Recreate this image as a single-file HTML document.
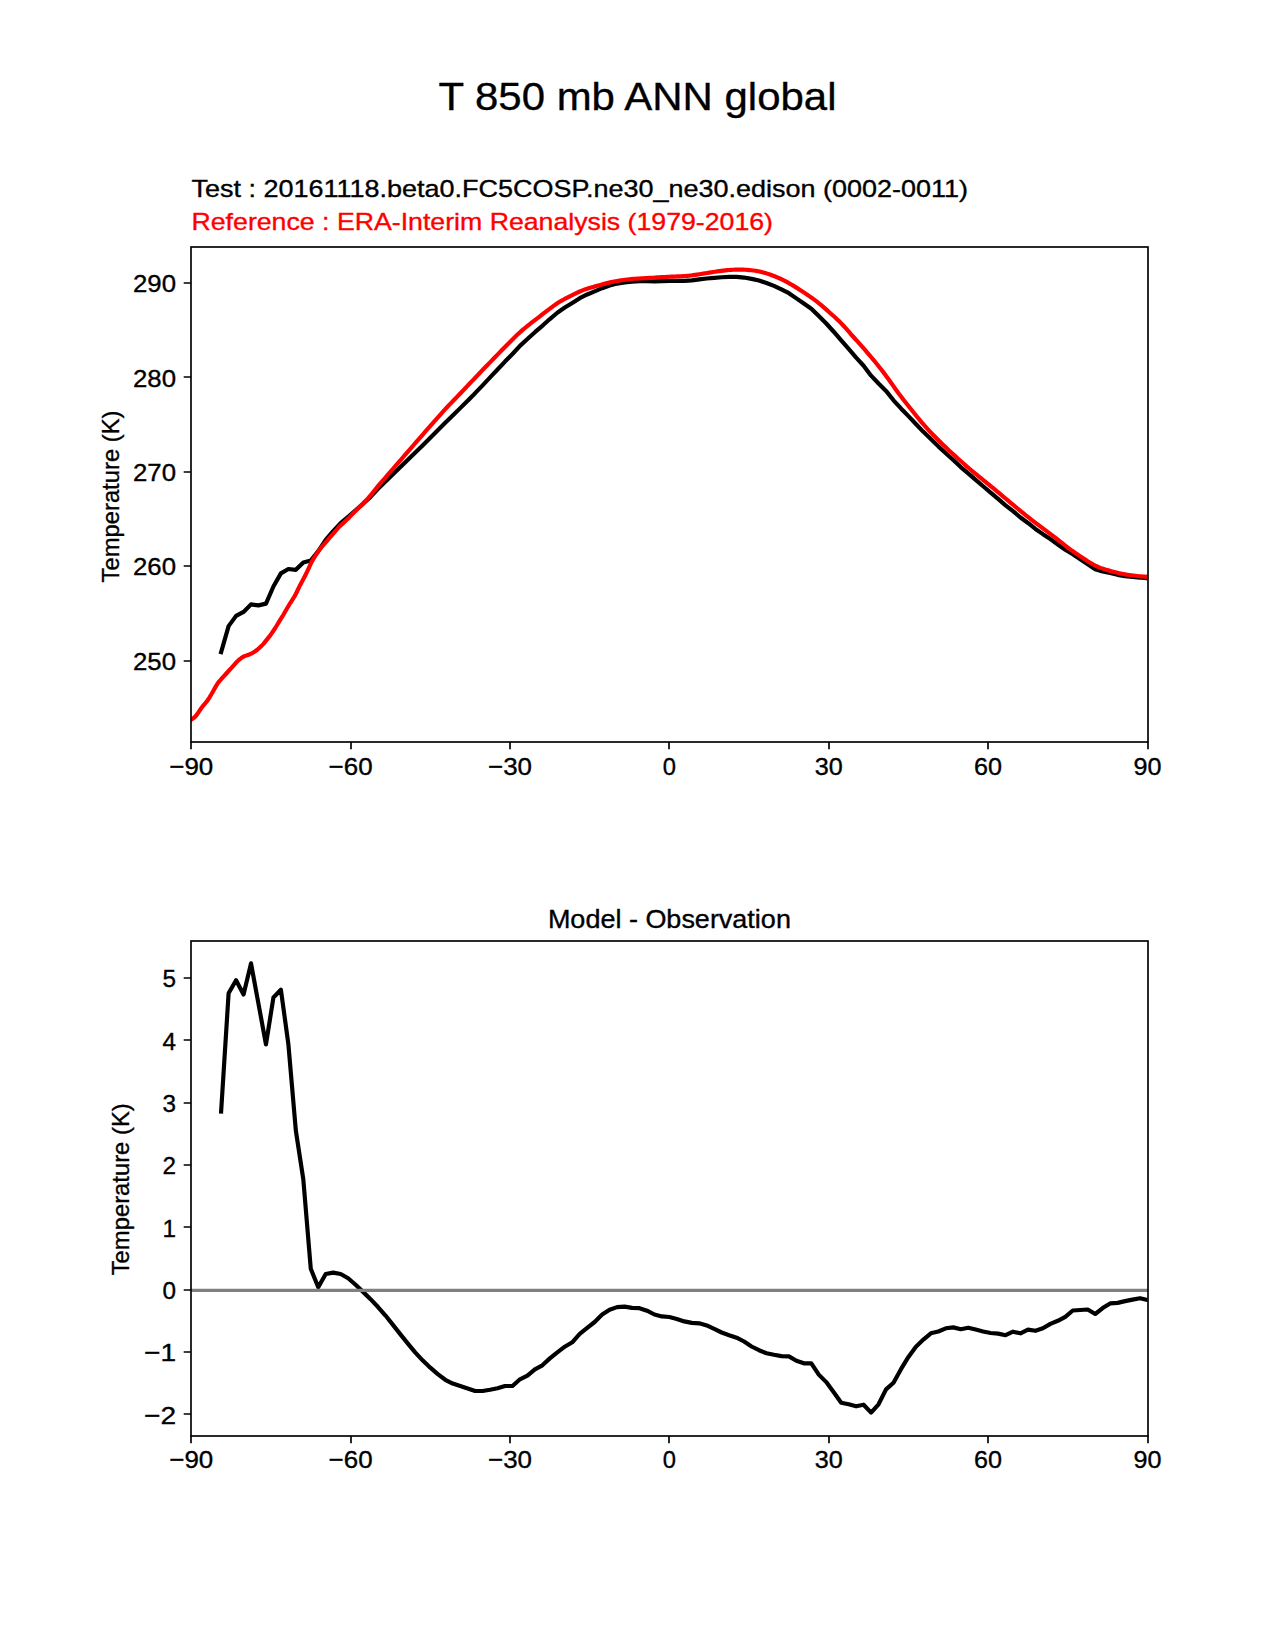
<!DOCTYPE html><html><head><meta charset="utf-8"><style>html,body{margin:0;padding:0;background:#fff;overflow:hidden}</style></head><body><svg width="1275" height="1650" viewBox="0 0 1275 1650" style="display:block"><rect width="1275" height="1650" fill="#fff"/><g font-family='"Liberation Sans", sans-serif' fill="#000" stroke="#000" stroke-width="0.35"><text x="637.5" y="110.4" font-size="39.7" text-anchor="middle" textLength="398" lengthAdjust="spacingAndGlyphs">T 850 mb ANN global</text><text x="191.5" y="197" font-size="24.3" textLength="776.5" lengthAdjust="spacingAndGlyphs">Test : 20161118.beta0.FC5COSP.ne30_ne30.edison (0002-0011)</text><text x="191.5" y="230.3" font-size="24.3" fill="#ff0000" stroke="#ff0000" textLength="581.5" lengthAdjust="spacingAndGlyphs">Reference : ERA-Interim Reanalysis (1979-2016)</text><text x="669.4" y="928.4" font-size="26.5" text-anchor="middle" textLength="243" lengthAdjust="spacingAndGlyphs">Model - Observation</text><text transform="translate(118.8,496.5) rotate(-90)" font-size="24.3" text-anchor="middle" textLength="172" lengthAdjust="spacingAndGlyphs">Temperature (K)</text><text transform="translate(128.8,1189.3) rotate(-90)" font-size="24.3" text-anchor="middle" textLength="172" lengthAdjust="spacingAndGlyphs">Temperature (K)</text></g><path d="M191.00 742v7.3 M191.00 1436v7.3 M351.00 742v7.3 M351.00 1436v7.3 M510.00 742v7.3 M510.00 1436v7.3 M669.00 742v7.3 M669.00 1436v7.3 M829.00 742v7.3 M829.00 1436v7.3 M988.00 742v7.3 M988.00 1436v7.3 M1148.00 742v7.3 M1148.00 1436v7.3 M191 661.00h-7.3 M191 566.00h-7.3 M191 472.00h-7.3 M191 377.00h-7.3 M191 283.00h-7.3 M191 1414.00h-7.3 M191 1352.00h-7.3 M191 1290.00h-7.3 M191 1227.00h-7.3 M191 1165.00h-7.3 M191 1103.00h-7.3 M191 1040.00h-7.3 M191 978.00h-7.3" stroke="#000" stroke-width="1.67" fill="none"/><g font-family='"Liberation Sans", sans-serif' font-size="24.3" fill="#000" stroke="#000" stroke-width="0.35"><text x="191.25" y="774.6" text-anchor="middle" textLength="44" lengthAdjust="spacingAndGlyphs">−90</text><text x="191.25" y="1467.6" text-anchor="middle" textLength="44" lengthAdjust="spacingAndGlyphs">−90</text><text x="350.62" y="774.6" text-anchor="middle" textLength="44" lengthAdjust="spacingAndGlyphs">−60</text><text x="350.62" y="1467.6" text-anchor="middle" textLength="44" lengthAdjust="spacingAndGlyphs">−60</text><text x="510.00" y="774.6" text-anchor="middle" textLength="44" lengthAdjust="spacingAndGlyphs">−30</text><text x="510.00" y="1467.6" text-anchor="middle" textLength="44" lengthAdjust="spacingAndGlyphs">−30</text><text x="669.38" y="774.6" text-anchor="middle" textLength="13.2" lengthAdjust="spacingAndGlyphs">0</text><text x="669.38" y="1467.6" text-anchor="middle" textLength="13.2" lengthAdjust="spacingAndGlyphs">0</text><text x="828.75" y="774.6" text-anchor="middle" textLength="28" lengthAdjust="spacingAndGlyphs">30</text><text x="828.75" y="1467.6" text-anchor="middle" textLength="28" lengthAdjust="spacingAndGlyphs">30</text><text x="988.12" y="774.6" text-anchor="middle" textLength="28" lengthAdjust="spacingAndGlyphs">60</text><text x="988.12" y="1467.6" text-anchor="middle" textLength="28" lengthAdjust="spacingAndGlyphs">60</text><text x="1147.50" y="774.6" text-anchor="middle" textLength="28" lengthAdjust="spacingAndGlyphs">90</text><text x="1147.50" y="1467.6" text-anchor="middle" textLength="28" lengthAdjust="spacingAndGlyphs">90</text><text x="176" y="669.70" text-anchor="end" textLength="43" lengthAdjust="spacingAndGlyphs">250</text><text x="176" y="575.30" text-anchor="end" textLength="43" lengthAdjust="spacingAndGlyphs">260</text><text x="176" y="480.90" text-anchor="end" textLength="43" lengthAdjust="spacingAndGlyphs">270</text><text x="176" y="386.50" text-anchor="end" textLength="43" lengthAdjust="spacingAndGlyphs">280</text><text x="176" y="292.10" text-anchor="end" textLength="43" lengthAdjust="spacingAndGlyphs">290</text><text x="176" y="1423.82" text-anchor="end" textLength="32" lengthAdjust="spacingAndGlyphs">−2</text><text x="176" y="1361.46" text-anchor="end" textLength="32" lengthAdjust="spacingAndGlyphs">−1</text><text x="176" y="1299.10" text-anchor="end" textLength="13.5" lengthAdjust="spacingAndGlyphs">0</text><text x="176" y="1236.74" text-anchor="end" textLength="13.5" lengthAdjust="spacingAndGlyphs">1</text><text x="176" y="1174.38" text-anchor="end" textLength="13.5" lengthAdjust="spacingAndGlyphs">2</text><text x="176" y="1112.02" text-anchor="end" textLength="13.5" lengthAdjust="spacingAndGlyphs">3</text><text x="176" y="1049.66" text-anchor="end" textLength="13.5" lengthAdjust="spacingAndGlyphs">4</text><text x="176" y="987.30" text-anchor="end" textLength="13.5" lengthAdjust="spacingAndGlyphs">5</text></g><defs><clipPath id="c1"><rect x="191.25" y="247.5" width="956.25" height="495"/></clipPath><clipPath id="c2"><rect x="191.25" y="940.5" width="956.25" height="495"/></clipPath></defs><polyline points="221.13,652.19 228.60,626.11 236.07,615.86 243.54,611.91 251.02,604.38 258.49,605.37 265.96,603.65 273.43,586.49 280.90,573.38 288.37,568.98 295.84,569.81 303.31,562.46 310.78,560.49 318.25,551.17 325.72,539.92 333.19,531.07 340.66,523.05 348.13,516.72 355.61,510.23 363.08,503.81 370.55,496.85 378.02,488.81 385.49,481.40 392.96,474.17 400.43,467.00 407.90,459.82 415.37,452.59 422.84,445.21 430.31,437.75 437.78,430.25 445.25,422.83 452.72,415.51 460.20,408.13 467.67,400.67 475.14,393.17 482.61,385.32 490.08,377.44 497.55,369.54 505.02,361.55 512.49,354.03 519.96,345.89 527.43,338.98 534.90,332.18 542.37,325.82 549.84,319.05 557.31,312.75 564.79,307.55 572.26,303.04 579.73,298.22 587.20,294.49 594.67,291.39 602.14,288.18 609.61,285.56 617.08,283.60 624.55,282.36 632.02,281.75 639.49,281.27 646.96,281.26 654.43,281.39 661.90,281.20 669.38,280.90 676.85,280.85 684.32,280.86 691.79,280.40 699.26,279.35 706.73,278.46 714.20,277.81 721.67,277.29 729.14,276.92 736.61,276.92 744.08,277.55 751.55,278.89 759.02,280.57 766.49,282.99 773.96,285.87 781.44,289.29 788.91,293.22 796.38,298.35 803.85,303.57 811.32,308.68 818.79,316.03 826.26,323.53 833.73,331.72 841.20,340.42 848.67,348.93 856.14,357.62 863.61,365.76 871.08,375.65 878.55,383.46 886.03,390.90 893.50,400.29 900.97,408.46 908.44,416.16 915.91,423.95 923.38,431.84 930.85,439.07 938.32,446.36 945.79,453.20 953.26,460.07 960.73,467.05 968.20,473.39 975.67,479.92 983.14,486.27 990.62,492.59 998.09,498.88 1005.56,505.39 1013.03,511.11 1020.50,517.50 1027.97,522.99 1035.44,528.93 1042.91,534.15 1050.38,539.11 1057.85,544.44 1065.32,549.70 1072.79,554.34 1080.26,559.38 1087.73,564.19 1095.21,569.18 1102.68,571.40 1110.15,572.96 1117.62,574.83 1125.09,576.11 1132.56,576.95 1140.03,577.55 1147.50,578.33" fill="none" stroke="#000" stroke-width="4.17" stroke-linejoin="round" stroke-linecap="square" clip-path="url(#c1)"/><polyline points="191.25,719.66 193.25,718.37 195.25,716.67 197.25,714.16 199.25,711.18 201.25,708.25 203.25,705.61 205.25,703.23 207.25,700.80 209.25,697.87 211.25,694.46 213.25,690.92 215.25,687.36 217.25,684.07 219.25,681.28 221.25,679.03 223.25,676.93 225.25,674.76 227.25,672.50 229.25,670.25 231.25,668.05 233.25,665.84 235.25,663.59 237.25,661.43 239.25,659.58 241.25,658.02 243.25,656.72 245.25,655.89 247.25,655.19 249.25,654.53 251.25,653.68 253.25,652.52 255.25,651.22 257.25,649.73 259.25,647.96 261.25,646.13 263.25,644.13 265.25,641.68 267.25,639.13 269.25,636.66 271.25,633.94 273.25,630.99 275.25,628.01 277.25,624.76 279.25,621.41 281.25,618.23 283.25,614.99 285.25,611.48 287.25,607.98 289.25,604.72 291.25,601.62 293.25,598.48 295.25,595.11 297.25,590.98 299.25,586.80 301.25,583.06 303.25,579.27 305.25,575.45 307.25,571.44 309.25,567.04 311.25,562.62 313.25,559.19 315.25,556.00 317.25,552.95 319.25,550.15 321.25,547.46 323.25,545.08 325.25,542.84 327.25,540.57 329.25,538.20 331.25,535.87 333.25,533.60 335.25,531.33 337.25,528.99 339.25,526.67 341.25,524.91 343.25,523.17 345.25,521.19 347.25,519.29 349.25,517.40 351.25,515.38 353.25,513.32 355.25,511.32 357.25,509.35 359.25,507.31 361.25,505.28 363.25,503.31 365.25,501.34 367.25,499.27 369.25,496.97 371.25,494.58 373.25,492.15 375.25,489.65 377.25,487.13 379.25,484.68 381.25,482.35 383.25,480.06 385.25,477.76 387.25,475.45 389.25,473.14 391.25,470.82 393.25,468.51 395.25,466.20 397.25,463.90 399.25,461.60 401.25,459.30 403.25,456.99 405.25,454.69 407.25,452.40 409.25,450.10 411.25,447.80 413.25,445.50 415.25,443.20 417.25,440.90 419.25,438.60 421.25,436.30 423.25,434.01 425.25,431.72 427.25,429.44 429.25,427.15 431.25,424.88 433.25,422.61 435.25,420.34 437.25,418.08 439.25,415.83 441.25,413.59 443.25,411.38 445.25,409.19 447.25,407.04 449.25,404.93 451.25,402.84 453.25,400.77 455.25,398.70 457.25,396.63 459.25,394.54 461.25,392.45 463.25,390.36 465.25,388.26 467.25,386.15 469.25,384.05 471.25,381.94 473.25,379.83 475.25,377.71 477.25,375.59 479.25,373.48 481.25,371.39 483.25,369.32 485.25,367.25 487.25,365.20 489.25,363.14 491.25,361.08 493.25,359.03 495.25,356.98 497.25,354.92 499.25,352.87 501.25,350.82 503.25,348.78 505.25,346.74 507.25,344.71 509.25,342.69 511.25,340.68 513.25,338.70 515.25,336.75 517.25,334.84 519.25,332.97 521.25,331.17 523.25,329.42 525.25,327.75 527.25,326.12 529.25,324.53 531.25,322.96 533.25,321.41 535.25,319.86 537.25,318.32 539.25,316.78 541.25,315.24 543.25,313.70 545.25,312.17 547.25,310.63 549.25,309.10 551.25,307.58 553.25,306.09 555.25,304.65 557.25,303.30 559.25,302.04 561.25,300.86 563.25,299.74 565.25,298.67 567.25,297.62 569.25,296.60 571.25,295.58 573.25,294.59 575.25,293.61 577.25,292.65 579.25,291.74 581.25,290.87 583.25,290.08 585.25,289.35 587.25,288.69 589.25,288.07 591.25,287.48 593.25,286.90 595.25,286.33 597.25,285.77 599.25,285.21 601.25,284.66 603.25,284.13 605.25,283.61 607.25,283.10 609.25,282.62 611.25,282.15 613.25,281.72 615.25,281.31 617.25,280.94 619.25,280.59 621.25,280.27 623.25,279.98 625.25,279.71 627.25,279.47 629.25,279.25 631.25,279.06 633.25,278.88 635.25,278.73 637.25,278.60 639.25,278.49 641.25,278.38 643.25,278.27 645.25,278.17 647.25,278.06 649.25,277.95 651.25,277.84 653.25,277.71 655.25,277.58 657.25,277.45 659.25,277.32 661.25,277.20 663.25,277.08 665.25,276.97 667.25,276.87 669.25,276.77 671.25,276.68 673.25,276.59 675.25,276.51 677.25,276.42 679.25,276.32 681.25,276.23 683.25,276.12 685.25,276.00 687.25,275.86 689.25,275.68 691.25,275.45 693.25,275.18 695.25,274.89 697.25,274.58 699.25,274.27 701.25,273.95 703.25,273.63 705.25,273.30 707.25,272.98 709.25,272.65 711.25,272.33 713.25,272.02 715.25,271.72 717.25,271.42 719.25,271.13 721.25,270.86 723.25,270.61 725.25,270.38 727.25,270.18 729.25,270.02 731.25,269.89 733.25,269.78 735.25,269.70 737.25,269.63 739.25,269.60 741.25,269.61 743.25,269.67 745.25,269.77 747.25,269.90 749.25,270.06 751.25,270.26 753.25,270.48 755.25,270.75 757.25,271.07 759.25,271.45 761.25,271.90 763.25,272.42 765.25,272.99 767.25,273.62 769.25,274.28 771.25,274.99 773.25,275.73 775.25,276.52 777.25,277.35 779.25,278.22 781.25,279.14 783.25,280.12 785.25,281.14 787.25,282.20 789.25,283.31 791.25,284.47 793.25,285.66 795.25,286.89 797.25,288.13 799.25,289.41 801.25,290.70 803.25,292.02 805.25,293.36 807.25,294.72 809.25,296.10 811.25,297.49 813.25,298.93 815.25,300.41 817.25,301.95 819.25,303.54 821.25,305.20 823.25,306.90 825.25,308.65 827.25,310.42 829.25,312.20 831.25,313.99 833.25,315.77 835.25,317.57 837.25,319.42 839.25,321.34 841.25,323.35 843.25,325.47 845.25,327.68 847.25,329.95 849.25,332.24 851.25,334.52 853.25,336.76 855.25,338.98 857.25,341.20 859.25,343.42 861.25,345.67 863.25,347.94 865.25,350.23 867.25,352.55 869.25,354.89 871.25,357.24 873.25,359.62 875.25,362.03 877.25,364.48 879.25,366.98 881.25,369.52 883.25,372.12 885.25,374.76 887.25,377.47 889.25,380.23 891.25,383.03 893.25,385.86 895.25,388.68 897.25,391.45 899.25,394.16 901.25,396.80 903.25,399.40 905.25,401.96 907.25,404.49 909.25,407.01 911.25,409.52 913.25,412.03 915.25,414.51 917.25,416.98 919.25,419.41 921.25,421.79 923.25,424.14 925.25,426.42 927.25,428.64 929.25,430.80 931.25,432.89 933.25,434.94 935.25,436.97 937.25,438.97 939.25,440.96 941.25,442.93 943.25,444.89 945.25,446.84 947.25,448.76 949.25,450.66 951.25,452.52 953.25,454.35 955.25,456.16 957.25,457.96 959.25,459.75 961.25,461.54 963.25,463.31 965.25,465.07 967.25,466.81 969.25,468.53 971.25,470.23 973.25,471.89 975.25,473.54 977.25,475.17 979.25,476.79 981.25,478.41 983.25,480.03 985.25,481.65 987.25,483.28 989.25,484.91 991.25,486.55 993.25,488.20 995.25,489.86 997.25,491.53 999.25,493.20 1001.25,494.88 1003.25,496.56 1005.25,498.25 1007.25,499.93 1009.25,501.61 1011.25,503.28 1013.25,504.94 1015.25,506.59 1017.25,508.24 1019.25,509.88 1021.25,511.51 1023.25,513.15 1025.25,514.77 1027.25,516.38 1029.25,517.96 1031.25,519.52 1033.25,521.06 1035.25,522.57 1037.25,524.07 1039.25,525.57 1041.25,527.06 1043.25,528.56 1045.25,530.06 1047.25,531.56 1049.25,533.07 1051.25,534.60 1053.25,536.14 1055.25,537.70 1057.25,539.26 1059.25,540.83 1061.25,542.41 1063.25,543.98 1065.25,545.54 1067.25,547.09 1069.25,548.61 1071.25,550.08 1073.25,551.52 1075.25,552.91 1077.25,554.28 1079.25,555.63 1081.25,556.97 1083.25,558.29 1085.25,559.60 1087.25,560.89 1089.25,562.15 1091.25,563.35 1093.25,564.48 1095.25,565.52 1097.25,566.47 1099.25,567.33 1101.25,568.12 1103.25,568.82 1105.25,569.47 1107.25,570.07 1109.25,570.63 1111.25,571.19 1113.25,571.72 1115.25,572.25 1117.25,572.75 1119.25,573.22 1121.25,573.66 1123.25,574.05 1125.25,574.41 1127.25,574.73 1129.25,575.02 1131.25,575.29 1133.25,575.54 1135.25,575.78 1137.25,575.99 1139.25,576.20 1141.25,576.38 1143.25,576.54 1145.25,576.68 1147.25,576.79" fill="none" stroke="#ff0000" stroke-width="4.17" stroke-linejoin="round" stroke-linecap="square" clip-path="url(#c1)"/><polyline points="221.13,1111.50 228.60,993.30 236.07,980.30 243.54,994.50 251.02,963.40 258.49,1003.90 265.96,1044.40 273.43,997.50 280.90,989.70 288.37,1044.10 295.84,1130.60 303.31,1179.40 310.78,1268.80 318.25,1287.20 325.72,1274.00 333.19,1272.60 340.66,1274.00 348.13,1278.20 355.61,1284.77 363.08,1291.88 370.55,1299.14 378.02,1307.01 385.49,1315.57 392.96,1324.88 400.43,1334.38 407.90,1343.68 415.37,1352.66 422.84,1360.61 430.31,1367.68 437.78,1374.09 445.25,1379.78 452.72,1383.51 460.20,1386.00 467.67,1388.50 475.14,1391.00 482.61,1391.00 490.08,1389.80 497.55,1388.30 505.02,1386.00 512.49,1386.00 519.96,1379.30 527.43,1375.60 534.90,1369.30 542.37,1365.30 549.84,1358.40 557.31,1352.40 564.79,1346.70 572.26,1342.30 579.73,1333.90 587.20,1327.90 594.67,1322.00 602.14,1314.50 609.61,1309.70 617.08,1307.10 624.55,1306.60 632.02,1307.90 639.49,1308.20 646.96,1310.70 654.43,1314.50 661.90,1316.40 669.38,1317.00 676.85,1318.90 684.32,1321.40 691.79,1322.90 699.26,1323.30 706.73,1325.40 714.20,1328.90 721.67,1332.50 729.14,1335.20 736.61,1337.70 744.08,1341.50 751.55,1346.50 759.02,1350.20 766.49,1353.20 773.96,1354.80 781.44,1356.10 788.91,1356.40 796.38,1360.80 803.85,1363.30 811.32,1363.30 818.79,1374.60 826.26,1382.10 833.73,1392.20 841.20,1402.80 848.67,1404.30 856.14,1406.30 863.61,1404.70 871.08,1412.60 878.55,1404.30 886.03,1389.40 893.50,1382.70 900.97,1369.20 908.44,1356.90 915.91,1346.70 923.38,1339.60 930.85,1333.30 938.32,1331.50 945.79,1328.30 953.26,1327.40 960.73,1329.20 968.20,1327.70 975.67,1329.60 983.14,1331.50 990.62,1333.00 998.09,1333.60 1005.56,1335.20 1013.03,1331.70 1020.50,1333.30 1027.97,1329.60 1035.44,1330.80 1042.91,1328.30 1050.38,1323.90 1057.85,1320.80 1065.32,1316.80 1072.79,1310.50 1080.26,1310.00 1087.73,1309.50 1095.21,1314.00 1102.68,1308.10 1110.15,1303.40 1117.62,1302.90 1125.09,1301.10 1132.56,1299.60 1140.03,1298.20 1147.50,1299.90" fill="none" stroke="#000" stroke-width="4.17" stroke-linejoin="round" stroke-linecap="square" clip-path="url(#c2)"/><path d="M191 1290.4H1148" stroke="#808080" stroke-width="3.1" fill="none"/><rect x="191" y="247.0" width="957" height="495.0" fill="none" stroke="#000" stroke-width="1.67"/><rect x="191" y="941.0" width="957" height="495.0" fill="none" stroke="#000" stroke-width="1.67"/></svg></body></html>
